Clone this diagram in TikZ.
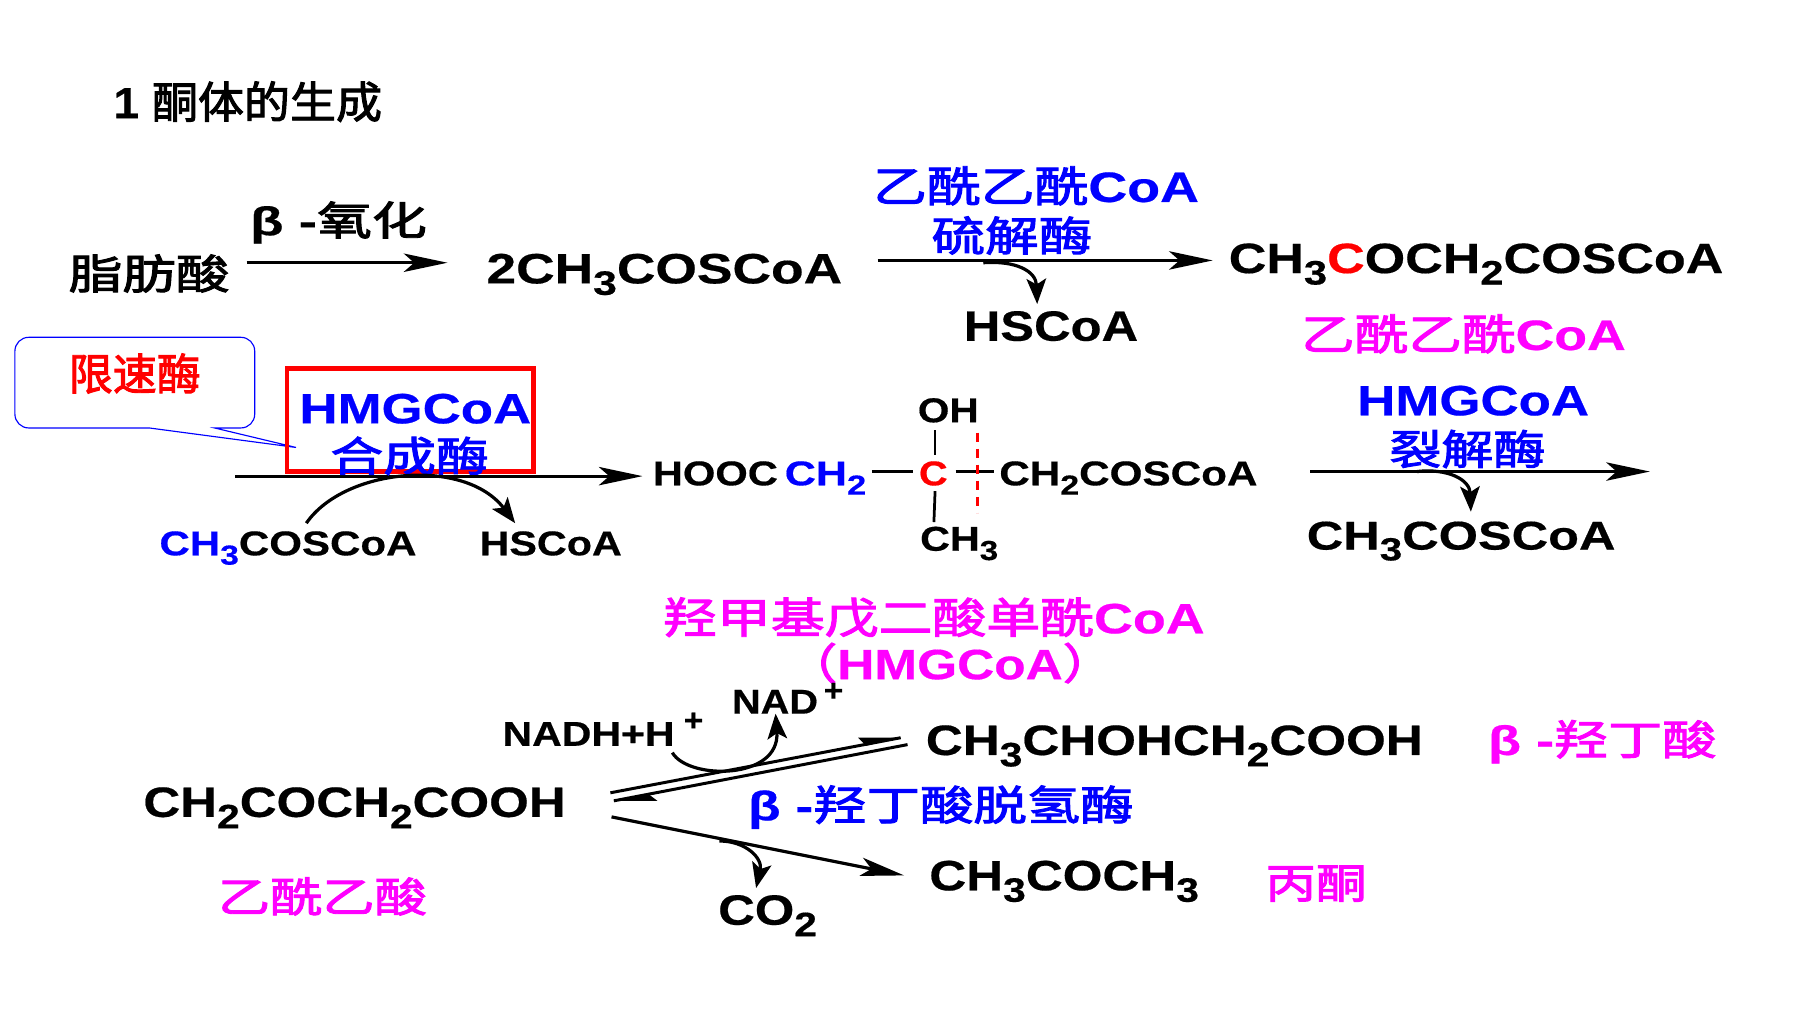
\documentclass[tikz,border=0pt]{standalone}
\usepackage{graphicx}
\usepackage{fontspec}
\setmainfont{Liberation Sans}[BoldFeatures={FakeBold=0.4}]
\newfontfamily\cjk{Noto Sans CJK SC}[FakeBold=2.2]
\usetikzlibrary{arrows.meta}
\definecolor{mblue}{RGB}{0,0,255}
\definecolor{mpink}{RGB}{255,0,255}
\definecolor{mred}{RGB}{255,0,0}
\newcommand\zh[1]{{\cjk\mdseries #1}}
\newcommand\sbs[1]{\raisebox{-.27em}{\scalebox{.8}{#1}}}
\newcommand\lab[7]{\node[lbl,text=#2] (#1) at (#3,#4) {\resizebox{#5pt}{\height}{\fontsize{#6}{#6}\selectfont\bfseries #7}};}
\tikzset{
  lbl/.style={anchor=base west,inner sep=0pt,outer sep=0pt},
  mainarrow/.style={line width=2.8pt,-{Stealth[length=38pt,width=16pt,inset=9pt]}},
  sidearrow/.style={line width=2.8pt,-{Stealth[length=22pt,width=17pt,inset=5pt]}},
  bond/.style={line width=2.4pt},
  halfhead/.style={fill=black,draw=none}
}
\begin{document}
\begin{tikzpicture}[x=1pt,y=-1pt]
\useasboundingbox (0,0) rectangle (1568,882);
% title
\lab{title}{black}{99}{103}{234}{38}{1 \zh{酮体的生成}}
% row 1
\lab{fa}{black}{60}{252}{140}{36}{\zh{脂肪酸}}
\lab{beta}{black}{218}{205}{154}{35}{β -\zh{氧化}}
\lab{acetyl}{black}{424}{247}{310}{37}{2CH\sbs{3}COSCoA}
\lab{thiaseA}{mblue}{761}{176}{284}{37}{\zh{乙酰乙酰}CoA}
\lab{thiaseB}{mblue}{812}{219}{140}{36}{\zh{硫解酶}}
\lab{hs1}{black}{840}{297}{152}{37}{HSCoA}
\lab{aca}{black}{1071}{238}{431}{37}{CH\sbs{3}\textcolor{mred}{C}OCH\sbs{2}COSCoA}
\lab{acaname}{mpink}{1134}{305}{283}{37}{\zh{乙酰乙酰}CoA}
\coordinate (a1s) at (215,229); \coordinate (a1e) at (390,229);
\draw[mainarrow] (a1s) -- (a1e);
\coordinate (a2s) at (765,227); \coordinate (a2e) at (1057,227);
\draw[mainarrow] (a2s) -- (a2e);
\coordinate (c1s) at (857,229); \coordinate (c1e) at (904,265);
\draw[sidearrow] (c1s) .. controls (885,227) and (903,236) .. (c1e);
% callout
\coordinate (tailA) at (130,373); \coordinate (tailT) at (258,390); \coordinate (tailB) at (187,373);
\draw[mblue,line width=1pt,fill=white] (25,294) -- (210,294) arc[start angle=-90,end angle=0,radius=12] -- (222,361) arc[start angle=0,end angle=90,radius=12] -- (tailB) -- (tailT) -- (tailA) -- (25,373) arc[start angle=90,end angle=180,radius=12] -- (13,306) arc[start angle=180,end angle=270,radius=12] -- cycle;
\lab{limit}{mred}{60}{340}{115}{38}{\zh{限速酶}}
% row 2
\coordinate (a3s) at (205,415); \coordinate (a3e) at (560,415);
\draw[mainarrow] (a3s) -- (a3e);
\draw[mred,line width=4pt] (250,321) rectangle (465,411);
\lab{hmgs}{mblue}{261}{369}{202}{37}{HMGCoA}
\lab{hmgsb}{mblue}{288}{411}{138}{36}{\zh{合成酶}}
\lab{acoa}{black}{139}{484}{224}{30}{\textcolor{mblue}{CH\sbs{3}}COSCoA}
\lab{hs2}{black}{418}{484}{124}{30}{HSCoA}
\coordinate (c2s) at (267,456); \coordinate (c2e) at (449,456);
\draw[sidearrow] (c2s) .. controls (300,408) and (405,398) .. (c2e);
\lab{hooc}{black}{569}{423}{109}{30}{HOOC}
\lab{chtwo}{mblue}{684}{423}{71}{30}{CH\sbs{2}}
\lab{cc}{mred}{801}{423}{25}{30}{C}
\lab{oh}{black}{800}{368}{53}{30}{OH}
\lab{chthree}{black}{802}{480}{68}{30}{CH\sbs{3}}
\lab{chain}{black}{871}{423}{225}{30}{CH\sbs{2}COSCoA}
\coordinate (b1s) at (760,411); \coordinate (b1e) at (796,411);
\draw[bond] (b1s) -- (b1e);
\coordinate (b2s) at (815,375); \coordinate (b2e) at (815,397);
\draw[bond] (b2s) -- (b2e);
\coordinate (b3s) at (815,428); \coordinate (b3e) at (814,455);
\draw[bond] (b3s) -- (b3e);
\coordinate (b4s) at (833,411); \coordinate (b4e) at (866,411);
\draw[bond] (b4s) -- (b4e);
\coordinate (cuts) at (852,377); \coordinate (cute) at (852,447);
\draw[mred,line width=3pt,dash pattern=on 8pt off 6pt] (cuts) -- (cute);
\lab{lyase}{mblue}{1183}{362}{202}{37}{HMGCoA}
\lab{lyaseb}{mblue}{1211}{405}{136}{36}{\zh{裂解酶}}
\coordinate (a4s) at (1142,411); \coordinate (a4e) at (1438,411);
\draw[mainarrow] (a4s) -- (a4e);
\coordinate (c3s) at (1235,411); \coordinate (c3e) at (1282,446);
\draw[sidearrow] (c3s) .. controls (1262,408) and (1281,418) .. (c3e);
\lab{acoa2}{black}{1139}{479}{269}{35}{CH\sbs{3}COSCoA}
\lab{hmgname}{mpink}{578}{552}{472}{37}{\zh{羟甲基戊二酸单酰}CoA}
\lab{hmgabbr}{mpink}{685}{592}{286}{37}{\zh{（}HMGCoA\zh{）}}
% row 3
\lab{aca2}{black}{125}{712}{368}{37}{CH\sbs{2}COCH\sbs{2}COOH}
\lab{acaac}{mpink}{190}{795}{182}{36}{\zh{乙酰乙酸}}
\lab{nadh}{black}{438}{650}{150}{30}{NADH+H}
\lab{nadhp}{black}{596}{637}{17}{27}{+}
\lab{nad}{black}{638}{622}{75}{30}{NAD}
\lab{nadp}{black}{718}{611}{17}{27}{+}
\lab{hb}{black}{807}{658}{433}{37}{CH\sbs{3}CHOHCH\sbs{2}COOH}
\lab{hbname}{mpink}{1297}{658}{199}{36}{β -\zh{羟丁酸}}
\lab{hbdh}{mblue}{652}{715}{336}{36}{β -\zh{羟丁酸脱氢酶}}
\lab{ace}{black}{810}{776}{235}{37}{CH\sbs{3}COCH\sbs{3}}
\lab{acename}{mpink}{1103}{783}{88}{36}{\zh{丙酮}}
\lab{cotwo}{black}{626}{806}{86}{37}{CO\sbs{2}}
% reversible arrows
\coordinate (e1s) at (532,691); \coordinate (e1e) at (785,643);
\draw[line width=2.6pt] (e1s) -- (e1e);
\fill[halfhead] (e1e) -- (748,643) -- (755,650) -- cycle;
\coordinate (e2s) at (791,649); \coordinate (e2e) at (535,698);
\draw[line width=2.6pt] (e2s) -- (e2e);
\fill[halfhead] (e2e) -- (573,698) -- (565,692) -- cycle;
\coordinate (c4s) at (586,656); \coordinate (c4e) at (676,622);
\draw[sidearrow] (c4s) .. controls (600,680) and (680,680) .. (c4e);
\coordinate (a5s) at (533,712); \coordinate (a5e) at (788,763);
\draw[mainarrow] (a5s) -- (a5e);
\coordinate (c5s) at (627,733); \coordinate (c5e) at (659,774);
\draw[sidearrow] (c5s) .. controls (650,733) and (665,748) .. (c5e);
\end{tikzpicture}
\end{document}
